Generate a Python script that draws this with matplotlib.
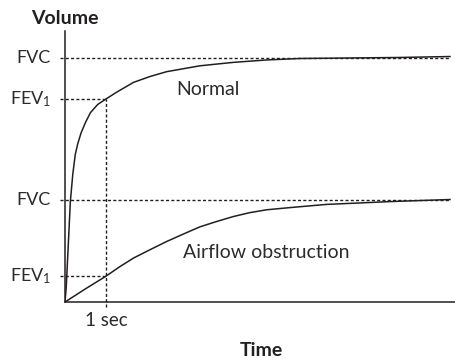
import matplotlib.pyplot as plt

plt.rcParams['font.family'] = ['Lato', 'DejaVu Sans']
plt.rcParams['mathtext.fontset'] = 'custom'
plt.rcParams['mathtext.rm'] = 'Lato'
plt.rcParams['mathtext.it'] = 'Lato'

# time in seconds, volume in litres
normal_t = [0, 0.03, 0.073, 0.13, 0.19, 0.25, 0.31, 0.39, 0.5, 0.62, 0.8, 1.0,
            1.26, 1.67, 2.07, 2.48, 3.29, 4.10, 4.92, 5.73, 6.9, 8.1, 9.39]
normal_v = [0, 0.3, 1.05, 2.05, 2.62, 3.02, 3.24, 3.46, 3.68, 3.88, 4.05, 4.16,
            4.30, 4.50, 4.62, 4.72, 4.84, 4.91, 4.96, 4.99, 5.0, 5.01, 5.03]

obstr_t = [0, 0.5, 1.0, 1.33, 1.67, 2.07, 2.48, 2.88, 3.29, 3.7, 4.10, 4.5,
           4.92, 5.56, 6.38, 7.20, 8.0, 9.39]
obstr_v = [0, 0.27, 0.53, 0.72, 0.90, 1.07, 1.24, 1.39, 1.54, 1.65, 1.75, 1.83,
           1.89, 1.94, 2.00, 2.03, 2.06, 2.10]

fvc_normal = 5.0
fev1_normal = 4.16
fvc_obstr = 2.09
fev1_obstr = 0.53
one_sec = 1.0

fig = plt.figure(figsize=(4.56, 3.61), dpi=100)
ax = fig.add_axes([65 / 456, 59 / 361, 391 / 456, 271 / 361])
ax.set_xlim(0, 391 / 41)
ax.set_ylim(0, 271 / 48.8)

ink = '#231f20'
txt = '#2b2b2b'
dots = dict(color=ink, lw=1.0, dashes=(2.2, 1.6), clip_on=False)

# reference lines for FVC / FEV1
x_left = -0.12
x_right = normal_t[-1]
for v in (fvc_normal, fvc_obstr):
    ax.plot([x_left, x_right], [v, v], **dots)
for v in (fev1_normal, fev1_obstr):
    ax.plot([x_left, one_sec], [v, v], **dots)
ax.plot([one_sec, one_sec], [-0.1, fev1_normal], **dots)

ax.plot(normal_t, normal_v, color=ink, lw=1.1, solid_joinstyle='round')
ax.plot(obstr_t, obstr_v, color=ink, lw=1.1, solid_joinstyle='round')

for s in ('top', 'right'):
    ax.spines[s].set_visible(False)
for s in ('left', 'bottom'):
    ax.spines[s].set_linewidth(1.1)
    ax.spines[s].set_color(ink)
ax.set_xticks([])
ax.set_yticks([])

fs = 13
lab_x = -0.34
ax.text(lab_x, fvc_normal, 'FVC', ha='right', va='center', fontsize=fs, color=txt, clip_on=False)
ax.text(lab_x, fvc_obstr, 'FVC', ha='right', va='center', fontsize=fs, color=txt, clip_on=False)
ax.text(lab_x, fev1_normal, 'FEV$_1$', ha='right', va='center', fontsize=fs, color=txt, clip_on=False)
ax.text(lab_x, fev1_obstr, 'FEV$_1$', ha='right', va='center', fontsize=fs, color=txt, clip_on=False)
ax.text(one_sec, -0.38, '1 sec', ha='center', va='center', fontsize=13.5, color=txt, clip_on=False)

ax.text(2.71, 4.35, 'Normal', ha='left', va='center', fontsize=14, color=txt)
ax.text(2.88, 1.02, 'Airflow obstruction', ha='left', va='center', fontsize=14, color=txt)

fig.text(65 / 456, 1 - 19 / 361, 'Volume', ha='center', va='center',
         fontsize=14, fontweight='bold', color=ink)
fig.text(261 / 456, 1 - 350 / 361, 'Time', ha='center', va='center',
         fontsize=14, fontweight='bold', color=ink)

fig.savefig('out.png', dpi=100)
